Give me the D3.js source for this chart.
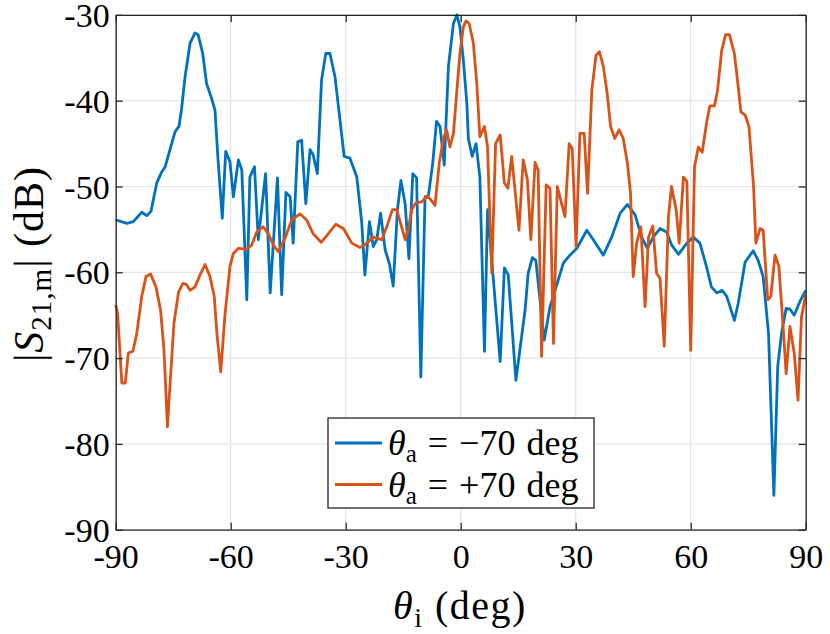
<!DOCTYPE html>
<html><head><meta charset="utf-8">
<script src="https://cdn.jsdelivr.net/npm/d3@7"></script>
<style>body{margin:0;background:#fff}svg{display:block}</style>
</head><body><svg id="c" width="830" height="634" style="font-family:'Liberation Serif','Times New Roman',Times,serif"></svg>
<script>
const xTicks = [-90,-60,-30,0,30,60,90];
const yTicks = [-30,-40,-50,-60,-70,-80,-90];
const seriesNames = ["−70", "+70"];
const blueX = [-90,-87.1,-85.4,-83.2,-81.9,-80.8,-79.3,-78.0,-77.1,-75.4,-74.5,-73.5,-72.8,-71.9,-70.6,-69.3,-68.5,-67.3,-66.3,-65.0,-64.1,-63.3,-62.2,-61.3,-60.2,-59.3,-58.0,-57.1,-55.8,-55.0,-53.8,-52.8,-50.9,-49.7,-47.8,-46.7,-45.6,-44.5,-43.7,-42.5,-41.5,-40.4,-39.3,-38.5,-37.4,-36.3,-35.2,-34.1,-32.8,-31.5,-30.4,-28.9,-27.1,-25.8,-25.0,-23.8,-22.8,-21.9,-20.9,-19.7,-18.6,-17.6,-16.5,-15.6,-14.5,-13.5,-12.5,-11.5,-10.4,-9.3,-8.4,-7.3,-6.3,-5.4,-4.3,-3.2,-1.9,-1.0,-0.2,0.7,1.6,2.0,3.0,4.0,5.0,6.2,7.0,10.3,11.4,12.4,14.4,16.8,17.6,18.7,19.6,21.8,23.3,24.9,26.8,28.5,30.3,32.9,34.6,37.2,39.4,41.6,43.5,45.5,47.2,48.7,50.2,52.0,53.7,55.0,56.8,59.0,60.7,62.4,64.1,65.4,66.8,68.2,69.4,71.4,72.4,74.2,76.3,77.6,78.9,80.3,81.7,82.7,83.7,84.9,85.9,87.0,88.5,90];
const blueY = [-53.9,-54.3,-54.1,-53.0,-53.4,-52.9,-49.6,-48.3,-47.7,-45.0,-43.6,-43.0,-40.9,-37.2,-33.3,-32.1,-32.3,-34.5,-38.0,-39.7,-41.1,-46.9,-53.7,-45.9,-47.1,-51.2,-46.9,-48.1,-63.2,-48.9,-47.7,-56.2,-48.5,-62.4,-49.0,-62.6,-50.7,-51.2,-56.6,-44.8,-44.6,-52.0,-45.7,-46.3,-48.5,-37.6,-34.5,-34.5,-37.2,-42.2,-46.5,-46.7,-48.9,-54.3,-60.3,-54.1,-57.0,-56.2,-53.1,-57.4,-59.0,-61.6,-52.7,-49.3,-52.0,-58.4,-48.5,-49.0,-72.2,-51.2,-51.0,-47.3,-42.4,-43.0,-47.5,-36.0,-31.0,-30.0,-31.4,-35.3,-40.3,-44.4,-46.5,-45.0,-48.9,-69.2,-52.7,-70.4,-59.5,-60.3,-72.6,-64.4,-60.1,-58.3,-58.6,-67.9,-64.0,-61.7,-58.9,-58.0,-57.2,-55.1,-56.2,-58.0,-55.9,-53.1,-52.1,-53.3,-55.9,-57.2,-55.9,-54.9,-55.3,-56.8,-57.9,-56.6,-55.9,-56.6,-59.3,-61.7,-62.4,-62.1,-62.8,-65.6,-63.6,-58.8,-57.5,-58.6,-60.5,-67.1,-86.0,-71.0,-67.1,-64.2,-64.3,-65.0,-63.4,-62.1];
const orangeX = [-90,-89.5,-88.4,-87.5,-86.7,-85.5,-84.5,-83.2,-82.1,-80.9,-79.5,-78.3,-77.4,-76.5,-75.8,-74.8,-73.6,-72.5,-71.6,-70.6,-69.3,-68.0,-66.7,-65.4,-64.3,-63.6,-62.6,-61.5,-60.2,-59.3,-58.0,-55.8,-54.5,-53.2,-51.5,-50.2,-48.9,-47.6,-45.8,-44.1,-41.9,-40.2,-38.5,-36.4,-34.5,-32.6,-30.6,-28.4,-26.3,-25.0,-22.8,-20.6,-19.3,-17.8,-16.7,-15.8,-14.5,-13.7,-12.8,-11.7,-10.2,-8.7,-7.7,-6.7,-5.6,-4.5,-3.7,-2.8,-1.9,-1.0,-0.2,0.7,1.4,2.2,3.3,4.2,5.0,6.2,7.0,8.1,9.1,10.3,11.4,12.3,13.3,15.2,16.3,17.4,18.3,19.4,20.2,21.1,22.3,23.3,24.2,25.2,26.2,27.2,28.3,29.1,30.1,31.1,32.2,33.1,34.2,35.3,36.2,37.2,38.2,39.1,40.2,41.3,42.4,43.5,44.3,45.0,45.9,47.0,48.1,49.0,50.1,51.1,52.0,53.1,54.2,55.0,56.2,57.0,58.1,59.0,60.0,61.0,62.0,63.0,64.2,65.0,66.2,67.0,68.1,69.1,70.1,71.4,72.3,73.1,74.2,75.2,76.4,77.0,78.1,78.9,80.1,80.9,82.0,83.0,83.9,84.9,85.9,87.0,88.0,88.9,90];
const orangeY = [-63.8,-64.8,-72.9,-72.9,-69.4,-69.2,-67.1,-62.8,-60.5,-60.2,-61.7,-64.4,-69.1,-78.0,-72.9,-65.9,-62.3,-61.3,-61.4,-62.1,-61.7,-60.3,-59.1,-60.5,-62.8,-67.1,-71.6,-65.0,-59.3,-57.8,-57.2,-57.3,-56.8,-55.3,-54.7,-55.5,-56.8,-57.6,-56.0,-53.9,-53.2,-53.9,-55.5,-56.5,-55.5,-54.4,-54.9,-56.6,-57.1,-56.8,-55.9,-56.2,-54.7,-52.7,-52.7,-54.1,-56.2,-55.1,-52.7,-51.9,-51.8,-51.1,-51.6,-52.2,-47.3,-44.4,-43.4,-45.4,-43.8,-38.8,-34.5,-31.4,-30.7,-31.0,-33.3,-38.0,-44.2,-43.0,-45.4,-60.1,-45.0,-44.0,-49.6,-50.2,-46.5,-55.1,-46.9,-49.2,-56.2,-47.2,-48.1,-69.8,-49.8,-50.2,-68.3,-50.0,-51.8,-53.5,-45.0,-45.6,-57.0,-43.8,-43.8,-50.8,-38.8,-34.7,-34.3,-36.0,-39.1,-43.0,-44.4,-43.4,-44.4,-47.3,-50.8,-60.5,-56.6,-54.7,-64.0,-55.9,-54.6,-60.1,-60.7,-68.6,-53.5,-50.0,-52.7,-56.6,-48.9,-49.4,-69.1,-47.7,-45.4,-46.0,-42.4,-40.6,-40.6,-38.8,-34.1,-32.3,-32.3,-34.5,-38.0,-41.3,-41.7,-43.0,-50.0,-56.6,-54.9,-55.1,-63.2,-62.8,-58.0,-59.3,-65.0,-71.8,-66.3,-69.4,-74.9,-65.2,-62.6];

const FONT = "'Liberation Serif','Times New Roman',Times,serif";
const svg = d3.select("#c");
const L = 115.7, R = 805.7, T = 14.9, B = 529.7;
const x = d3.scaleLinear().domain([-90, 90]).range([L, R]);
const y = d3.scaleLinear().domain([-90, -30]).range([B, T]);
const axisCol = "#262626";

// grid
const g = svg.append("g");
g.selectAll("line.gx").data(xTicks).join("line")
  .attr("x1", d => x(d)).attr("x2", d => x(d)).attr("y1", T).attr("y2", B)
  .attr("stroke", "#e5e5e5").attr("stroke-width", 1.2);
g.selectAll("line.gy").data(yTicks).join("line")
  .attr("y1", d => y(d)).attr("y2", d => y(d)).attr("x1", L).attr("x2", R)
  .attr("stroke", "#e5e5e5").attr("stroke-width", 1.2);

// lines
const pts = (xs, ys) => xs.map((v, i) => [v, ys[i]]);
const line = d3.line().x(d => x(d[0])).y(d => y(d[1]));
svg.append("path").datum(pts(blueX, blueY)).attr("d", line)
  .attr("fill", "none").attr("stroke", "#0072BD").attr("stroke-width", 2.8).attr("stroke-linejoin", "round");
svg.append("path").datum(pts(orangeX, orangeY)).attr("d", line)
  .attr("fill", "none").attr("stroke", "#D95319").attr("stroke-width", 2.8).attr("stroke-linejoin", "round");

// axes (inward ticks, box)
const ax = svg.append("g");
const axB = d3.axisBottom(x).tickValues(xTicks).tickSizeInner(-7).tickSizeOuter(0).tickPadding(14).tickFormat(d => String(d));
const axL = d3.axisLeft(y).tickValues(yTicks).tickSizeInner(-7).tickSizeOuter(0).tickPadding(14).tickFormat(d => String(d));
const axT = d3.axisTop(x).tickValues(xTicks).tickSizeInner(-7).tickSizeOuter(0).tickFormat("");
const axR = d3.axisRight(y).tickValues(yTicks).tickSizeInner(-7).tickSizeOuter(0).tickFormat("");
const gb = ax.append("g").attr("transform", `translate(0,${B})`).call(axB);
const gl = ax.append("g").attr("transform", `translate(${L},0)`).call(axL);
const gt = ax.append("g").attr("transform", `translate(0,${T})`).call(axT);
const gr = ax.append("g").attr("transform", `translate(${R},0)`).call(axR);
[gb, gl, gt, gr].forEach(a => {
  a.attr("font-family", null).attr("font-size", null);
  a.selectAll("path").attr("stroke", axisCol).attr("stroke-width", 1.3);
  a.selectAll("line").attr("stroke", axisCol).attr("stroke-width", 1.3);
  a.selectAll("text").attr("fill", "#000").style("font-family", FONT).style("font-size", "34px");
});
gb.selectAll("text").attr("dy", null).attr("y", 38);
gl.selectAll("text").attr("dy", "0.34em").attr("x", -6);

// axis labels
const ylab = svg.append("text").attr("transform", "translate(43,264) rotate(-90)")
  .attr("text-anchor", "middle").style("font-family", FONT).style("font-size", "42px").style("letter-spacing", "1px");
ylab.append("tspan").text("|");
ylab.append("tspan").style("font-style", "italic").text("S");
ylab.append("tspan").style("font-size", "29px").attr("dy", 8).text("21,m");
ylab.append("tspan").attr("dy", -8).text("| (dB)");

const xlab = svg.append("text").attr("x", 460).attr("y", 619).attr("text-anchor", "middle")
  .style("font-family", FONT).style("font-size", "40px").style("letter-spacing", "1.5px");
xlab.append("tspan").style("font-style", "italic").text("θ");
xlab.append("tspan").style("font-size", "28px").attr("dy", 8).text("i");
xlab.append("tspan").attr("dy", -8).text(" (deg)");

// legend
const lg = svg.append("g");
lg.append("rect").attr("x", 328).attr("y", 418).attr("width", 266).attr("height", 90)
  .attr("fill", "#fff").attr("stroke", axisCol).attr("stroke-width", 1.3);
const cols = ["#0072BD", "#D95319"];
seriesNames.forEach((nm, i) => {
  const yy = 443 + i * 41.5;
  lg.append("line").attr("x1", 335).attr("x2", 382).attr("y1", yy).attr("y2", yy)
    .attr("stroke", cols[i]).attr("stroke-width", 2.8);
  const t = lg.append("text").attr("x", 388).attr("y", yy + 12)
    .style("font-family", FONT).style("font-size", "36px");
  t.append("tspan").style("font-style", "italic").text("θ");
  t.append("tspan").style("font-size", "25px").attr("dy", 7).text("a");
  t.append("tspan").attr("dy", -7).attr("dx", 11).text("=");
  t.append("tspan").attr("dx", 11).text(nm);
  t.append("tspan").attr("dx", 11).text("deg");
});
</script></body></html>
